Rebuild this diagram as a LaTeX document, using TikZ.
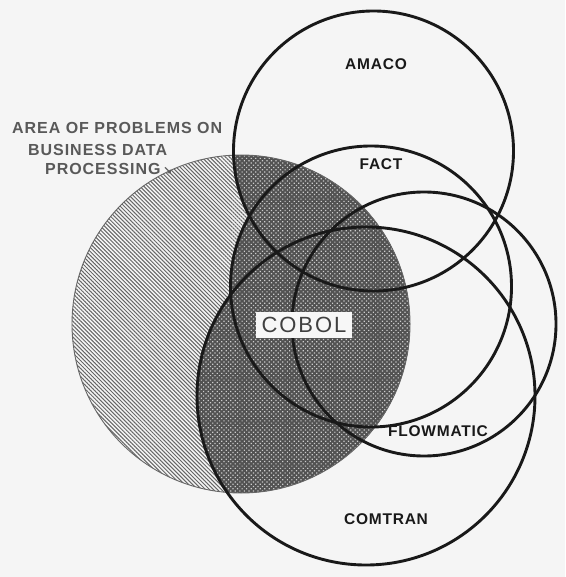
\documentclass[tikz,border=0pt]{standalone}
\usepackage{fontspec}
\setmainfont{Liberation Sans}
\newfontfamily\labfont[LetterSpace=5]{Liberation Sans}
\newfontfamily\areafont[LetterSpace=6]{Liberation Sans}
\newfontfamily\cobfont[LetterSpace=9]{Liberation Sans}
\newfontfamily\symbfont{DejaVu Sans}
\usetikzlibrary{patterns.meta}
\begin{document}
\begin{tikzpicture}[x=1pt,y=-1pt,
  ring/.style={draw=black!90, line width=2.9pt},
  halftone/.style={preaction={fill=black!68}, pattern={Dots[radius=0.85pt,distance=3.2pt,angle=45]}, pattern color=white!80!black},
  hatch/.style={preaction={fill=white!96!black}, pattern={Lines[angle=-45,distance=2.8pt,line width=1pt]}, pattern color=black!60},
  circlab/.style={font=\labfont\bfseries\fontsize{15.5}{15.5}\selectfont, text=black!90, inner sep=0pt},
  arealab/.style={font=\areafont\bfseries\fontsize{16}{16}\selectfont, text=black!65, inner sep=0pt, anchor=west},
  cobolbox/.style={fill=white!97!black, inner xsep=6pt, inner ysep=5pt, font=\cobfont\fontsize{22}{22}\selectfont, text=black!75}]
\useasboundingbox (0,0) rectangle (565,577);
\fill[white!96!black] (0,0) rectangle (565,577);
% centres
\coordinate (cB) at (241,324);
\coordinate (cA) at (373.5,151);
\coordinate (cF) at (371,286.5);
\coordinate (cW) at (424,324);
\coordinate (cC) at (366,396);
% shading of business area
\fill[hatch] (cB) circle[radius=169];
\begin{scope}
  \clip (cB) circle[radius=169];
  \fill[halftone] (cA) circle[radius=140];
  \fill[halftone] (cF) circle[radius=140.5];
  \fill[halftone] (cW) circle[radius=132];
  \fill[halftone] (cC) circle[radius=169];
\end{scope}
\draw[black!60, line width=0.9pt] (cB) circle[radius=169];
% language circles
\draw[ring] (cA) circle[radius=140];
\draw[ring] (cF) circle[radius=140.5];
\draw[ring] (cW) circle[radius=132];
\draw[ring] (cC) circle[radius=169];
% labels
\node[circlab] (amaco) at (376,64) {AMACO};
\node[circlab] (fact) at (381,164) {FACT};
\node[circlab] (flow) at (438,431) {FLOWMATIC};
\node[circlab] (comtran) at (386,519) {COMTRAN};
\node[cobolbox] (cobol) at (304,325) {COBOL};
\node[arealab] (area1) at (12,128) {AREA OF PROBLEMS ON};
\node[arealab] (area2) at (28,149.5) {BUSINESS DATA};
\node[arealab] (area3) at (45,169) {PROCESSING\,{\symbfont\fontsize{11}{11}\selectfont ↘}};
\end{tikzpicture}
\end{document}
